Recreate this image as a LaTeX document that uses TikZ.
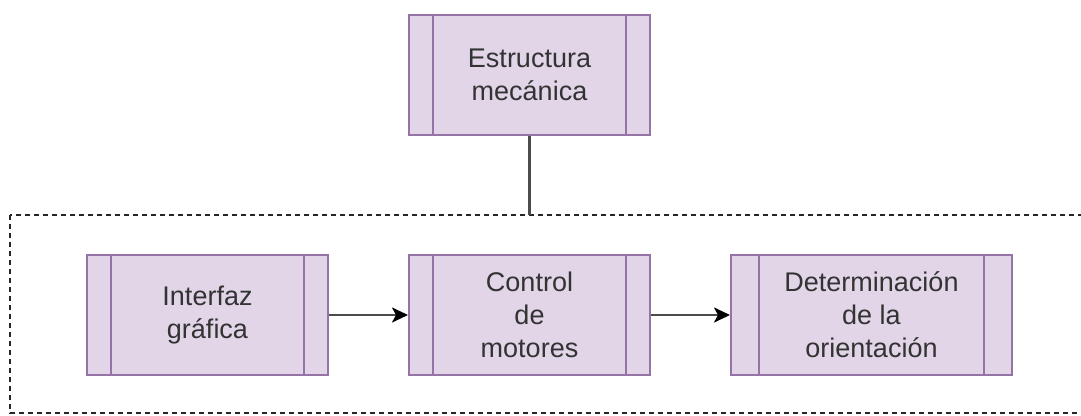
\documentclass[tikz,border=0pt]{standalone}
\usepackage{fontspec}
\setmainfont{Liberation Sans}
\usetikzlibrary{
	calc,
	arrows.meta,
	positioning
	}
\definecolor{procfill}{HTML}{E1D5E7}
\definecolor{procline}{HTML}{9673A6}
\definecolor{txtgray}{HTML}{333333}
\tikzset{font={\fontsize{27pt}{33pt}\selectfont}}
\tikzstyle{bloque-proc}=[draw=procline,fill=procfill,line width=2pt,minimum height=120pt,align=center,text=txtgray,inner sep=0pt,
	path picture={
		\draw[procline,line width=2pt] ($(path picture bounding box.north west)!0.1!(path picture bounding box.north east)$) -- ($(path picture bounding box.south west)!0.1!(path picture bounding box.south east)$);
		\draw[procline,line width=2pt] ($(path picture bounding box.north west)!0.9!(path picture bounding box.north east)$) -- ($(path picture bounding box.south west)!0.9!(path picture bounding box.south east)$);
	}]
\tikzstyle{flecha}=[draw=black!70,line width=2.5pt,-{Stealth[length=16pt,width=15pt,inset=4pt,black]}]

\begin{document}
\begin{tikzpicture}[x=1pt,y=-1pt]
            \useasboundingbox (0,0) rectangle (1081,415);
            % marco del sistema
            \draw[black!85,line width=1.5pt,dash pattern=on 5pt off 4pt] (10,215) rectangle (1100,413);
            \coordinate (marco-top) at (529.5,215);
            %
            \node[bloque-proc, minimum width=241pt] (est-mec) at (529.5,74.5) {Estructura\\mecánica};
            \node[bloque-proc, minimum width=241pt] (ctrl-mot) at (529.5,315) {Control\\de\\motores};
            \node[bloque-proc, minimum width=241pt, left=79pt of ctrl-mot] (int-graf) {Interfaz\\gráfica};
            \node[bloque-proc, minimum width=281pt, right=79pt of ctrl-mot] (det-ori) {Determinación\\de la\\orientación};
            %
            \draw[black!70,line width=2.5pt] (est-mec.south) -- (marco-top);
            \draw[flecha] (int-graf) -- (ctrl-mot);
            \draw[flecha] (ctrl-mot) -- (det-ori);
        \end{tikzpicture}
\end{document}
